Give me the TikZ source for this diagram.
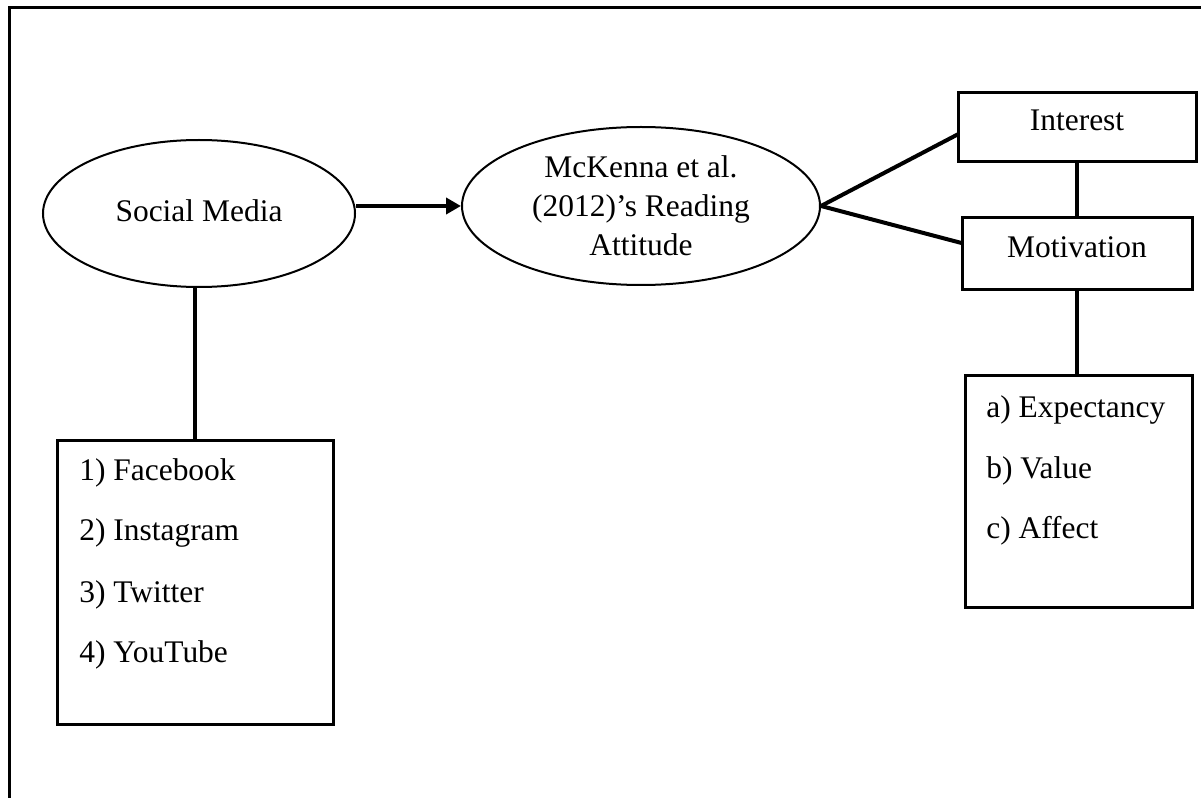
\documentclass[tikz,border=0pt]{standalone}
\usepackage{fontspec}
\setmainfont{Liberation Serif}
\usetikzlibrary{shapes.geometric,arrows.meta,calc}
\begin{document}
\begin{tikzpicture}[x=0.75pt,y=-0.75pt,
  font=\fontsize{23.6pt}{29.25pt}\selectfont,
  oval/.style={ellipse, draw, line width=1.5pt, inner sep=0pt, align=center},
  box/.style={rectangle, draw, line width=2.25pt, inner sep=0pt},
  conn/.style={line width=3pt},
  frame/.style={line width=2.25pt},
  item/.style={anchor=base west, inner sep=0pt}]
\useasboundingbox (0,0) rectangle (1201,798);
\draw[frame] (1205,7.5) -- (9.5,7.5) -- (9.5,802);
% ovals
\node[oval, minimum width=234pt, minimum height=110.25pt, text depth=5pt] (sm) at (199,213.5) {Social Media};
\node[oval, minimum width=268.5pt, minimum height=118.5pt] (mk) at (641,206) {McKenna et al.\\(2012)’s Reading\\Attitude};
% right boxes
\node[box, minimum width=178.5pt, minimum height=51.75pt, text height=15.75pt, text depth=10.5pt] (int) at (1077,127.5) {Interest};
\node[box, minimum width=172.5pt, minimum height=54pt, text height=15.75pt, text depth=10.5pt] (mot) at (1077,254) {Motivation};
\node[box, minimum width=170.25pt, minimum height=174pt] (exp) at (1078.5,491) {};
\node[item] (ea) at (986,417) {a) Expectancy};
\node[item] (eb) at (986,478) {b) Value};
\node[item] (ec) at (986,538) {c) Affect};
% left box
\node[box, minimum width=207pt, minimum height=213pt] (fb) at (195,582) {};
\node[item] (f1) at (79,480) {1) Facebook};
\node[item] (f2) at (79,540) {2) Instagram};
\node[item] (f3) at (79,602) {3) Twitter};
\node[item] (f4) at (79,662) {4) YouTube};
% connectors
\draw[conn,-{Triangle[length=11.25pt,width=12pt]}] (sm.east |- mk.west) -- (mk.west);
\draw[conn] (mk.east) -- ($(int.west)+(2,6.5)$);
\draw[conn] (mk.east) -- ($(mot.west)+(1,-11)$);
\draw[conn] (int.south) -- (mot.north);
\draw[conn] (mot.south) -- (mot.south |- exp.north);
\draw[conn] (fb.north |- sm.south) -- (fb.north);
\end{tikzpicture}
\end{document}
